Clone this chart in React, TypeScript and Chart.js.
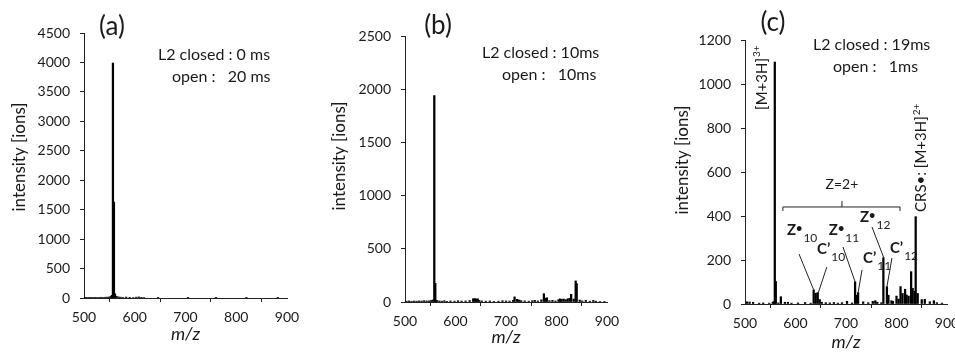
import React, { useEffect, useRef } from 'react';
import { Chart, registerables } from 'chart.js';

Chart.register(...registerables);

// ---------- data ----------
const A_MZ = [502, 506, 510, 514, 518, 522, 526, 530, 534, 538, 542, 546, 550, 553, 555, 557, 559, 561, 564, 568, 572, 577, 583, 590, 597, 603, 608, 613, 618, 646, 705, 760, 820, 882];
const A_INT = [6, 9, 7, 10, 8, 11, 9, 10, 12, 9, 13, 15, 18, 25, 45, 3990, 1630, 70, 30, 18, 14, 10, 16, 12, 9, 14, 18, 12, 8, 6, 3, 4, 3, 12];

const B_MZ = [503, 508, 513, 518, 523, 528, 533, 538, 543, 548, 552, 555, 558, 560, 563, 568, 573, 578, 583, 590, 598, 605, 612, 620, 628, 635, 638, 641, 644, 647, 652, 660, 668, 676, 685, 693, 700, 707, 714, 717, 722, 726, 730, 737, 745, 752, 757, 763, 770, 775, 778, 781, 786, 792, 798, 804, 807, 810, 814, 818, 822, 826, 829, 834, 838, 840, 846, 851, 858, 866, 873, 878, 886, 895];
const B_INT = [8, 10, 7, 9, 8, 10, 9, 12, 10, 11, 14, 20, 1940, 175, 15, 10, 8, 12, 6, 10, 8, 12, 9, 10, 14, 30, 32, 28, 30, 15, 10, 8, 10, 6, 8, 12, 10, 9, 15, 48, 25, 18, 12, 10, 8, 12, 15, 10, 20, 78, 35, 40, 12, 15, 10, 22, 30, 25, 28, 22, 30, 35, 72, 28, 198, 172, 18, 10, 15, 8, 15, 8, 5, 4];

const C_MZ = [504, 509, 516, 528, 536, 548, 555, 557, 559, 561, 566, 571, 579, 585, 592, 605, 619, 630, 636, 640, 644, 648, 652, 660, 668, 676, 684, 692, 702, 712, 718, 721, 724, 734, 744, 753, 758, 762, 770, 774, 781, 784, 790, 793, 800, 804, 808, 812, 817, 820, 824, 829, 832, 836, 838, 842, 850, 856, 866, 874, 880, 890];
const C_INT = [10, 9, 8, 4, 5, 4, 8, 12, 1100, 102, 5, 33, 8, 8, 4, 5, 7, 4, 64, 49, 52, 20, 8, 6, 5, 7, 4, 6, 12, 5, 101, 40, 52, 10, 6, 12, 15, 8, 6, 210, 79, 40, 15, 12, 36, 22, 79, 48, 67, 41, 36, 147, 71, 58, 397, 48, 20, 21, 10, 15, 6, 4];

const SERIES_MZ = [A_MZ, B_MZ, C_MZ];
const SERIES_INT = [A_INT, B_INT, C_INT];

const X_MIN = 500;
const X_MAX = 900;
const X_STEP = 100;
const Y_MAX = [4500, 2500, 1200];
const Y_STEP = [500, 500, 200];

const PANEL_LABELS = ['(a)', '(b)', '(c)'];
const CLOSED_TEXT = ['L2 closed : 0 ms', 'L2 closed : 10ms', 'L2 closed : 19ms'];
const OPEN_TEXT = ['open :   20 ms', 'open :   10ms', 'open :   1ms'];
const Y_TITLE = 'intensity [ions]';
const X_TITLE = 'm/z';

// annotations of panel (c), anchored in data units (m/z, intensity)
const ION_NAMES = ['Z', 'C', 'Z', 'C', 'Z', 'C'];
const ION_SUBS = ['10', '10', '11', '11', '12', '12'];
const ION_PEAK_MZ = [636, 645, 718, 724, 775, 781];
const ION_PEAK_INT = [64, 50, 101, 52, 209, 78];
const ION_LABEL_MZ = [583, 642.6, 666, 733.7, 727.7, 787];
const ION_LABEL_INT = [336, 250, 336, 209, 395, 255];
const ION_LINE_MZ = [607, 662, 694, 731.7, 751.5, 791];
const ION_LINE_INT = [227, 168, 259, 155, 350, 209];

const BRACKET_TEXT = 'Z=2+';
const BRACKET_FROM = 575;
const BRACKET_TO = 807;
const BRACKET_MID = 692;
const BRACKET_INT = 441;
const BRACKET_LABEL_INT = 541;

const PARENT_LABEL = '[M+3H]';
const PARENT_CHARGE = '3+';
const PARENT_AT = [533.5, 882];
const CRS_LABEL = 'CRS\u2022: [M+3H]';
const CRS_CHARGE = '2+';
const CRS_AT = [849, 418];

// ---------- layout ----------
const FONT = 'Lato, "Open Sans", sans-serif';
const INK = '#1a1a1a';
const H = 354;

const LAYOUT = [
  { left: 0, width: 310, yAxisW: 84, padTop: 33, padRight: 23, xAxisH: 56, xTitlePad: 9,
    label: [112, 27], cond: [158, 55, 172, 77], yTitle: [20, 157] },
  { left: 320, width: 310, yAxisW: 85, padTop: 36, padRight: 23, xAxisH: 52, xTitlePad: 6,
    label: [118, 26], cond: [162, 53, 182, 75], yTitle: [20, 156] },
  { left: 640, width: 330, yAxisW: 105, padTop: 40, padRight: 23, xAxisH: 50, xTitlePad: 1,
    label: [133, 23], cond: [173, 45, 193, 67], yTitle: [43, 160] },
];

function drawRotated(ctx: CanvasRenderingContext2D, x: number, y: number, main: string, sup: string, size: number) {
  ctx.save();
  ctx.translate(x, y);
  ctx.rotate(-Math.PI / 2);
  ctx.textAlign = 'left';
  ctx.textBaseline = 'middle';
  ctx.font = `${size}px ${FONT}`;
  ctx.fillText(main, 0, 0);
  const w = ctx.measureText(main).width;
  ctx.font = `${Math.round(size * 0.65)}px ${FONT}`;
  ctx.fillText(sup, w + 1, -size * 0.32);
  ctx.restore();
}

function makeDeco(i: number) {
  return {
    id: 'deco' + i,
    afterDraw(chart: any) {
      const { ctx, scales } = chart;
      const L = LAYOUT[i];
      ctx.save();
      ctx.fillStyle = INK;
      ctx.strokeStyle = '#222';
      ctx.textBaseline = 'middle';

      // panel label
      ctx.font = `26px ${FONT}`;
      ctx.textAlign = 'center';
      ctx.fillText(PANEL_LABELS[i], L.label[0], L.label[1]);

      // conditions
      ctx.font = `16px ${FONT}`;
      ctx.textAlign = 'left';
      ctx.fillText(CLOSED_TEXT[i], L.cond[0], L.cond[1]);
      ctx.fillText(OPEN_TEXT[i], L.cond[2], L.cond[3]);

      // y title
      ctx.save();
      ctx.translate(L.yTitle[0], L.yTitle[1]);
      ctx.rotate(-Math.PI / 2);
      ctx.textAlign = 'center';
      ctx.font = `17px ${FONT}`;
      ctx.fillText(Y_TITLE, 0, 0);
      ctx.restore();

      if (i === 2) {
        const px = (v: number) => scales.x.getPixelForValue(v);
        const py = (v: number) => scales.y.getPixelForValue(v);
        ctx.lineWidth = 1;

        // ion labels and leader lines
        for (let k = 0; k < ION_NAMES.length; k++) {
          ctx.beginPath();
          ctx.moveTo(px(ION_LINE_MZ[k]), py(ION_LINE_INT[k]));
          ctx.lineTo(px(ION_PEAK_MZ[k]), py(ION_PEAK_INT[k]));
          ctx.stroke();

          const x = px(ION_LABEL_MZ[k]);
          const y = py(ION_LABEL_INT[k]);
          ctx.textAlign = 'left';
          ctx.font = `bold 15px ${FONT}`;
          let w: number;
          if (ION_NAMES[k] === 'Z') {
            ctx.fillText('Z', x, y);
            const wz = ctx.measureText('Z').width;
            ctx.font = `bold 11px ${FONT}`;
            ctx.fillText('\u2022', x + wz, y - 2);
            w = wz + ctx.measureText('\u2022').width + 1;
          } else {
            ctx.fillText('C\u2019', x, y);
            w = ctx.measureText('C\u2019').width + 1;
          }
          ctx.font = `12px ${FONT}`;
          ctx.fillText(ION_SUBS[k], x + w, y + 8);
        }

        // bracket Z=2+
        const by = py(BRACKET_INT);
        const bx1 = px(BRACKET_FROM);
        const bx2 = px(BRACKET_TO);
        const bm = px(BRACKET_MID);
        ctx.beginPath();
        ctx.moveTo(bx1, by + 4);
        ctx.lineTo(bx1, by);
        ctx.lineTo(bx2, by);
        ctx.lineTo(bx2, by + 4);
        ctx.moveTo(bm, by);
        ctx.lineTo(bm, by - 6);
        ctx.stroke();
        ctx.font = `14px ${FONT}`;
        ctx.textAlign = 'center';
        ctx.fillText(BRACKET_TEXT, bm, py(BRACKET_LABEL_INT));

        // rotated peak labels
        drawRotated(ctx, px(PARENT_AT[0]), py(PARENT_AT[1]), PARENT_LABEL, PARENT_CHARGE, 15);
        drawRotated(ctx, px(CRS_AT[0]), py(CRS_AT[1]), CRS_LABEL, CRS_CHARGE, 15);
      }
      ctx.restore();
    },
  };
}

function Panel({ idx }: { idx: number }) {
  const ref = useRef<HTMLCanvasElement>(null);
  const L = LAYOUT[idx];
  useEffect(() => {
    const canvas = ref.current;
    if (!canvas) return;
    const points = SERIES_MZ[idx].map((m, k) => ({ x: m, y: SERIES_INT[idx][k] }));
    const chart = new Chart(canvas, {
      type: 'bar',
      data: {
        datasets: [
          {
            data: points as any,
            backgroundColor: '#000',
            borderWidth: 0,
            barThickness: 1.6,
            grouped: false,
          } as any,
        ],
      },
      options: {
        animation: false,
        responsive: false,
        devicePixelRatio: 1,
        events: [],
        layout: { padding: { top: L.padTop, right: L.padRight, bottom: 0, left: 0 } },
        plugins: { legend: { display: false }, tooltip: { enabled: false } },
        scales: {
          x: {
            type: 'linear',
            min: X_MIN,
            max: X_MAX,
            offset: false,
            border: { display: true, color: '#222', width: 1 },
            grid: { display: true, drawOnChartArea: false, drawTicks: true, tickLength: 4, color: '#222' },
            ticks: {
              stepSize: X_STEP,
              padding: 7,
              color: INK,
              font: { family: FONT, size: 14 },
              maxRotation: 0,
              callback: (v: any) => String(v),
            },
            title: {
              display: true,
              text: X_TITLE,
              color: INK,
              font: { family: FONT, size: 18, style: 'italic' },
              padding: { top: 0, bottom: L.xTitlePad },
            },
            afterFit: (s: any) => {
              s.height = L.xAxisH;
            },
          },
          y: {
            type: 'linear',
            min: 0,
            max: Y_MAX[idx],
            border: { display: true, color: '#222', width: 1 },
            grid: { display: true, drawOnChartArea: false, drawTicks: true, tickLength: 4, color: '#222' },
            ticks: {
              stepSize: Y_STEP[idx],
              padding: 10,
              color: INK,
              font: { family: FONT, size: 14 },
              callback: (v: any) => String(v),
            },
            afterFit: (s: any) => {
              s.width = L.yAxisW;
            },
          },
        },
      },
      plugins: [makeDeco(idx)],
    } as any);
    return () => chart.destroy();
  }, [idx]);
  return (
    <canvas
      ref={ref}
      width={L.width}
      height={H}
      style={{ position: 'absolute', left: L.left, top: 0, width: L.width, height: H }}
    />
  );
}

export default function App() {
  return (
    <div
      style={{
        position: 'fixed',
        left: 0,
        top: 0,
        width: 955,
        height: H,
        overflow: 'hidden',
        background: '#fff',
      }}
    >
      <Panel idx={0} />
      <Panel idx={1} />
      <Panel idx={2} />
    </div>
  );
}
